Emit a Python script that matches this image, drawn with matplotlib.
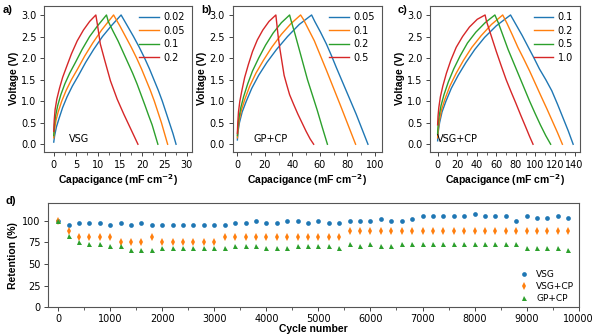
import numpy as np
import matplotlib
matplotlib.use("Agg")
import matplotlib.pyplot as plt
from matplotlib.ticker import AutoMinorLocator, MultipleLocator

plt.rcParams["font.family"] = ["DejaVu Sans"]
plt.rcParams["font.size"] = 7
plt.rcParams["axes.linewidth"] = 0.8
plt.rcParams["axes.edgecolor"] = "#555555"

COLORS = ["#1f77b4", "#ff7f0e", "#2ca02c", "#d62728"]

# ---------------------------------------------------------------- GCD data
# each curve: (capacitance, voltage) for the charge branch and discharge branch
# a) VSG, current densities 0.02 / 0.05 / 0.1 / 0.2
vsg_labels = ["0.02", "0.05", "0.1", "0.2"]
vsg_charge_x = [
    [0, 0.2, 0.6, 1.2, 2.0, 3.0, 4.2, 5.6, 7.2, 9.0, 11.0, 13.0, 15.2],
    [0, 0.2, 0.5, 1.0, 1.8, 2.8, 4.0, 5.4, 7.0, 8.8, 10.8, 13.5],
    [0, 0.15, 0.4, 0.9, 1.6, 2.5, 3.6, 4.9, 6.4, 8.1, 9.9, 11.9],
    [0, 0.1, 0.3, 0.7, 1.3, 2.0, 2.9, 4.0, 5.3, 6.7, 8.1, 9.5],
]
vsg_charge_v = [
    [0.05, 0.2, 0.4, 0.6, 0.85, 1.1, 1.35, 1.6, 1.9, 2.2, 2.5, 2.75, 3.0],
    [0.15, 0.35, 0.55, 0.75, 1.0, 1.25, 1.5, 1.75, 2.05, 2.35, 2.65, 3.0],
    [0.2, 0.45, 0.65, 0.9, 1.15, 1.4, 1.65, 1.9, 2.2, 2.5, 2.75, 3.0],
    [0.3, 0.55, 0.8, 1.05, 1.3, 1.55, 1.8, 2.1, 2.4, 2.65, 2.85, 3.0],
]
vsg_dis_x = [
    [15.2, 16.6, 18.0, 19.3, 20.5, 21.6, 22.6, 23.6, 24.5, 25.3, 26.1, 26.9, 27.6],
    [13.5, 14.9, 16.2, 17.5, 18.7, 19.8, 20.8, 21.8, 22.7, 23.5, 24.3, 25.0, 25.7],
    [11.9, 12.3, 13.4, 14.5, 15.6, 16.7, 17.8, 18.8, 19.7, 20.6, 21.4, 22.2, 23.5],
    [9.5, 9.9, 10.5, 11.5, 12.8, 14.3, 15.8, 17.4, 19.0],
]
vsg_dis_v = [
    [3.0, 2.75, 2.5, 2.25, 2.0, 1.75, 1.5, 1.25, 1.0, 0.75, 0.5, 0.25, 0.0],
    [3.0, 2.75, 2.5, 2.25, 2.0, 1.75, 1.5, 1.25, 1.0, 0.75, 0.5, 0.25, 0.0],
    [3.0, 2.85, 2.62, 2.4, 2.15, 1.9, 1.65, 1.4, 1.15, 0.9, 0.67, 0.45, 0.0],
    [3.0, 2.75, 2.33, 1.95, 1.47, 1.05, 0.7, 0.35, 0.0],
]

# b) GP+CP, current densities 0.05 / 0.1 / 0.2 / 0.5
gp_labels = ["0.05", "0.1", "0.2", "0.5"]
gp_charge_x = [
    [0, 0.5, 1.5, 3.5, 6.5, 10.5, 15.5, 21.5, 28.5, 36.5, 45, 54],
    [0, 0.5, 1.3, 3, 5.5, 9, 13.5, 19, 25, 32, 39, 46],
    [0, 0.4, 1.1, 2.5, 4.5, 7.5, 11, 15.5, 20.5, 26, 32, 38],
    [0, 0.3, 0.8, 1.8, 3.3, 5.3, 8, 11, 14.5, 18.5, 23, 28],
]
gp_charge_v = [
    [0.1, 0.3, 0.5, 0.75, 1.0, 1.3, 1.6, 1.9, 2.2, 2.5, 2.78, 3.0],
    [0.15, 0.35, 0.55, 0.8, 1.05, 1.35, 1.65, 1.95, 2.25, 2.55, 2.8, 3.0],
    [0.2, 0.4, 0.6, 0.85, 1.1, 1.4, 1.7, 2.0, 2.3, 2.58, 2.82, 3.0],
    [0.25, 0.5, 0.75, 1.0, 1.25, 1.55, 1.85, 2.15, 2.42, 2.65, 2.85, 3.0],
]
gp_dis_x = [
    [54, 56.3, 60.5, 64.7, 68.4, 72, 75.6, 79.2, 82.8, 86.4, 90.7, 95],
    [46, 48, 52, 56, 60.5, 65, 70, 75, 80.5, 86],
    [38, 39, 42, 45, 48, 51, 54.5, 58, 61.7, 65.5],
    [28, 28.5, 29.7, 31, 32.5, 34, 36, 38, 41, 44, 47, 50, 53, 55.5],
]
gp_dis_v = [
    [3.0, 2.85, 2.6, 2.33, 2.06, 1.78, 1.51, 1.24, 0.97, 0.7, 0.35, 0.0],
    [3.0, 2.9, 2.65, 2.4, 2.05, 1.7, 1.3, 0.9, 0.45, 0.0],
    [3.0, 2.88, 2.55, 2.2, 1.85, 1.5, 1.15, 0.8, 0.4, 0.0],
    [3.0, 2.85, 2.5, 2.2, 1.9, 1.6, 1.37, 1.15, 0.92, 0.7, 0.5, 0.3, 0.12, 0.0],
]

# c) VSG+CP, current densities 0.1 / 0.2 / 0.5 / 1.0
vcp_labels = ["0.1", "0.2", "0.5", "1.0"]
vcp_charge_x = [
    [0, 0.7, 2, 4.5, 8.5, 14, 21, 29, 38, 48, 60, 74.5],
    [0, 0.6, 1.8, 4, 7.5, 12.5, 19, 26.5, 35, 44.5, 55, 66.5],
    [0, 0.5, 1.5, 3.5, 6.5, 11, 16.5, 23, 30.5, 39, 48.5, 58.5],
    [0, 0.4, 1.2, 2.8, 5.3, 9, 13.5, 19, 25.5, 32.5, 40.5, 48.5],
]
vcp_charge_v = [
    [0.08, 0.3, 0.5, 0.75, 1.0, 1.3, 1.6, 1.9, 2.2, 2.48, 2.75, 3.0],
    [0.15, 0.35, 0.55, 0.8, 1.05, 1.35, 1.65, 1.95, 2.25, 2.52, 2.78, 3.0],
    [0.25, 0.45, 0.65, 0.9, 1.15, 1.45, 1.75, 2.05, 2.35, 2.6, 2.82, 3.0],
    [0.45, 0.65, 0.85, 1.1, 1.35, 1.65, 1.95, 2.25, 2.5, 2.72, 2.9, 3.0],
]
vcp_dis_x = [
    [74.5, 80, 86.5, 92.7, 98.5, 104, 110.5, 116.7, 122.5, 128, 133.5, 138.5],
    [66.5, 71, 76.5, 82, 88, 94, 100, 106, 111.5, 117, 122.5, 127.5],
    [58.5, 62, 67, 72, 77.5, 83, 88.5, 94, 99.5, 105, 110.5, 115.5],
    [48.5, 50, 55, 60, 65, 70, 75, 80, 85, 90, 94, 97.5],
]
vcp_dis_v = [
    [3.0, 2.78, 2.52, 2.25, 2.0, 1.75, 1.5, 1.24, 0.93, 0.62, 0.31, 0.0],
    [3.0, 2.8, 2.53, 2.25, 1.98, 1.7, 1.4, 1.1, 0.83, 0.55, 0.27, 0.0],
    [3.0, 2.82, 2.51, 2.2, 1.9, 1.6, 1.3, 1.0, 0.72, 0.45, 0.2, 0.0],
    [3.0, 2.85, 2.5, 2.15, 1.82, 1.5, 1.22, 0.95, 0.67, 0.4, 0.18, 0.0],
]

# ---------------------------------------------------------------- cycling data
cycles = list(range(0, 10000, 200))
ret_vsg = [100, 95.5, 97.5, 97.5, 97.5, 95.5, 97.5, 95.5, 97.5, 95.5,
           95.5, 95.5, 95.5, 95.5, 95.5, 95.5, 95.5, 97.5, 97.5, 100,
           97.5, 97.5, 100, 100, 97.5, 100, 97.5, 97.5, 100, 100,
           100, 102.3, 100, 100, 102.3, 105.2, 105.2, 105.2, 105.2, 105.2,
           107.3, 105.2, 105.2, 105.2, 100, 105.2, 102.8, 102.8, 105.2, 102.5]
ret_vsg_cp = [100, 87.5, 81.25, 81.25, 81.25, 81.25, 75, 75, 75, 81.25,
              75, 75, 75, 75, 75, 75, 81.25, 81.25, 81.25, 81.25,
              81.25, 81.25, 81.25, 81.25, 81.25, 81.25, 81.25, 81.25, 87.5, 87.5,
              87.5, 87.5, 87.5, 87.5, 87.5, 87.5, 87.5, 87.5, 87.5, 87.5,
              87.5, 87.5, 87.5, 87.5, 87.5, 87.5, 87.5, 87.5, 87.5, 87.5]
ret_gp_cp = [100, 82.8, 75.2, 73.3, 73.3, 70.2, 70.2, 65.6, 65.6, 65.6,
             68.3, 68.3, 68.3, 68.3, 68.3, 68.3, 68.3, 70.2, 70.2, 70.8,
             68.3, 68.3, 68.3, 70.2, 70.2, 70.2, 70.2, 68.3, 73.3, 70.2,
             73.3, 70.2, 70.2, 73.3, 73.3, 73.3, 73.3, 73.3, 73.3, 73.3,
             73.3, 73.3, 73.3, 73.3, 73.3, 68.3, 68.3, 68.3, 68.3, 65.6]

W, H = 594, 336
fig = plt.figure(figsize=(W / 100, H / 100), dpi=100)


def px_axes(left, top, right, bottom):
    return fig.add_axes([left / W, 1 - bottom / H, (right - left) / W, (bottom - top) / H])


def gcd_panel(ax, labels, cx, cv, dx, dv, xlim, xstep, name, name_x, letter, letter_x):
    for i, lab in enumerate(labels):
        ax.plot(cx[i] + dx[i][1:], cv[i] + dv[i][1:], color=COLORS[i], lw=1.0, label=lab)
    ax.set_xlim(*xlim)
    ax.set_ylim(-0.18, 3.22)
    ax.xaxis.set_major_locator(MultipleLocator(xstep))
    ax.xaxis.set_minor_locator(AutoMinorLocator(2))
    ax.yaxis.set_major_locator(MultipleLocator(0.5))
    ax.yaxis.set_major_formatter(plt.FormatStrFormatter("%.1f"))
    ax.tick_params(labelsize=7, length=3, width=0.7, color="#444444", pad=2.5)
    ax.tick_params(which="minor", length=2, width=0.6, color="#444444")
    ax.set_xlabel(r"Capacigance (mF cm$^{\mathbf{-2}}$)", fontsize=7.5,
                  fontweight="bold", family="Liberation Sans", labelpad=1.5)
    ax.set_ylabel("Voltage (V)", fontsize=7.5, fontweight="bold",
                  family="Liberation Sans", labelpad=1.5)
    ax.text(name_x, 0.12, name, fontsize=7, va="center", ha="left")
    ax.legend(loc="upper right", frameon=False, fontsize=7, handlelength=2.0,
              handletextpad=0.5, labelspacing=0.35, borderaxespad=0.3)
    ax.text(letter_x, 0.95, letter, transform=ax.transAxes, fontsize=8,
            fontweight="bold", family="Liberation Sans")


ax_a = px_axes(44, 5.5, 192, 152)
gcd_panel(ax_a, vsg_labels, vsg_charge_x, vsg_charge_v, vsg_dis_x, vsg_dis_v,
          (-2.2, 31.2), 5, "VSG", 3.4, "a)", -0.28)

ax_b = px_axes(232.7, 5.5, 381.7, 152)
gcd_panel(ax_b, gp_labels, gp_charge_x, gp_charge_v, gp_dis_x, gp_dis_v,
          (-3.4, 105), 20, "GP+CP", 11.4, "b)", -0.21)

ax_c = px_axes(430, 5.5, 580, 152)
gcd_panel(ax_c, vcp_labels, vcp_charge_x, vcp_charge_v, vcp_dis_x, vcp_dis_v,
          (-7.8, 145.5), 20, "VSG+CP", -0.7, "c)", -0.215)

# d) capacitance retention over cycling
ax_d = px_axes(47.7, 203.3, 578.7, 307.3)
ax_d.plot(cycles, ret_vsg, "o", color=COLORS[0], ms=3.4, mew=0, label="VSG")
ax_d.plot(cycles, ret_vsg_cp, "d", color=COLORS[1], ms=3.8, mew=0, label="VSG+CP")
ax_d.plot(cycles, ret_gp_cp, "^", color=COLORS[2], ms=3.6, mew=0, label="GP+CP")
ax_d.set_xlim(-200, 10000)
ax_d.set_ylim(0, 120)
ax_d.xaxis.set_major_locator(MultipleLocator(1000))
ax_d.xaxis.set_minor_locator(AutoMinorLocator(2))
ax_d.yaxis.set_major_locator(MultipleLocator(25))
ax_d.tick_params(labelsize=7, length=3, width=0.7, color="#444444", pad=2)
ax_d.tick_params(which="minor", length=2, width=0.6, color="#444444")
ax_d.set_xlabel("Cycle number", fontsize=7.5, fontweight="bold",
                family="Liberation Sans", labelpad=0)
ax_d.set_ylabel("Retention (%)", fontsize=7.5, fontweight="bold",
                family="Liberation Sans", labelpad=3)
ax_d.legend(loc="lower right", frameon=False, fontsize=6.5, handlelength=1.2,
            handletextpad=0.8, labelspacing=0.3, borderaxespad=0.1)
ax_d.text(-0.08, 0.99, "d)", transform=ax_d.transAxes, fontsize=8,
          fontweight="bold", family="Liberation Sans")

fig.savefig("out.png", dpi=100)
